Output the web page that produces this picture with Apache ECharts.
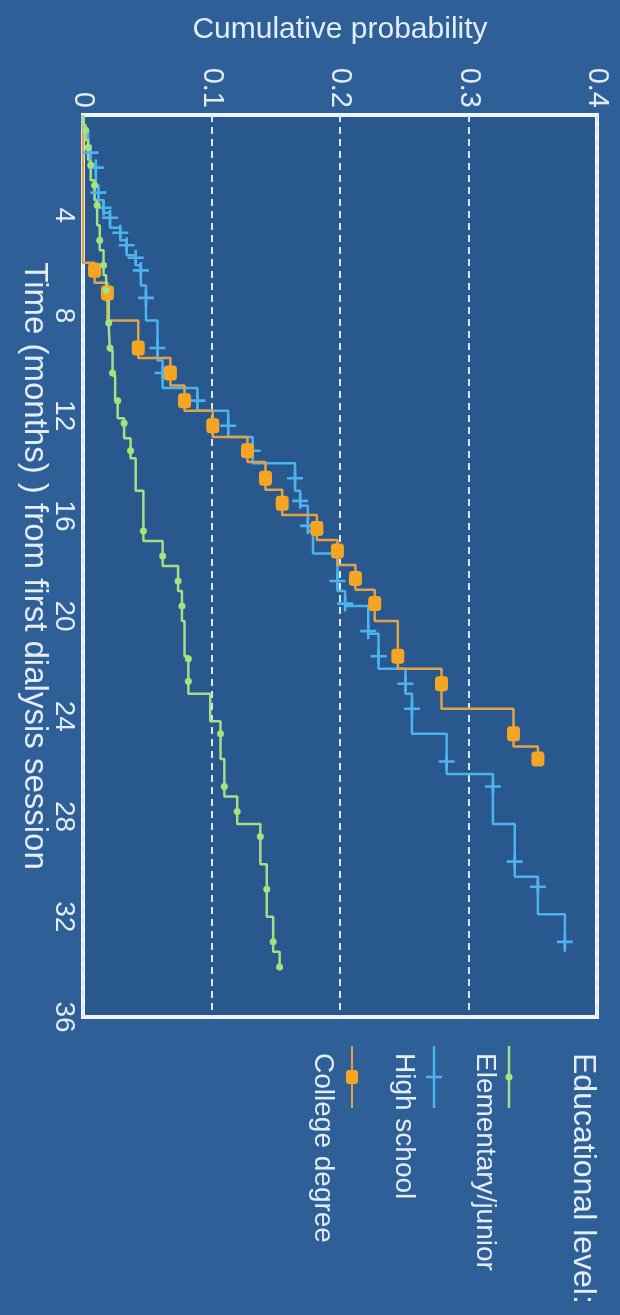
<!DOCTYPE html>
<html><head><meta charset="utf-8">
<script src="https://cdn.jsdelivr.net/npm/echarts@6/dist/echarts.min.js"></script>
<style>html,body{margin:0;padding:0;background:#2e5f96;}#chart{width:620px;height:1315px;}</style>
</head><body><div id="chart"></div>
<script>
// ---- data (time in months, cumulative probability) ----
const seriesNames = ['Elementary/junior', 'High school', 'College degree'];
const legendTitle = 'Educational level:';

const elemTime = [0, 0.4, 1.0, 1.8, 2.6, 3.4, 4.4, 5.4, 6.4, 7.4, 8.4, 9.4, 10.4, 11.4, 12.1, 12.9, 13.7, 15.0, 17.0, 18.0, 19.0, 20.2, 21.6, 23.1, 24.2, 25.7, 27.2, 28.3, 29.9, 32.0, 33.4, 34.0];
const elemProb = [0, 0.002, 0.004, 0.006, 0.009, 0.011, 0.013, 0.016, 0.018, 0.020, 0.021, 0.023, 0.025, 0.027, 0.032, 0.037, 0.041, 0.047, 0.062, 0.074, 0.077, 0.079, 0.082, 0.099, 0.107, 0.110, 0.120, 0.138, 0.143, 0.148, 0.153, 0.153];
const elemCensor = [0.6, 1.3, 2.0, 2.8, 3.6, 5.0, 6.0, 7.0, 8.3, 9.3, 10.3, 11.4, 12.3, 13.4, 16.6, 17.6, 18.6, 19.6, 21.7, 22.6, 24.7, 26.8, 27.8, 28.8, 30.9, 33.0, 34.0];

const highTime = [0, 0.6, 1.4, 2.0, 2.8, 3.4, 3.9, 4.5, 5.0, 5.6, 6.0, 6.8, 8.2, 9.8, 10.9, 11.8, 12.85, 13.9, 15.0, 15.6, 16.6, 17.5, 19.0, 19.6, 20.7, 22.1, 23.1, 24.7, 26.3, 28.3, 30.4, 31.9, 33.4];
const highProb = [0, 0.004, 0.006, 0.010, 0.012, 0.016, 0.021, 0.029, 0.034, 0.041, 0.045, 0.049, 0.058, 0.062, 0.089, 0.113, 0.132, 0.165, 0.169, 0.175, 0.179, 0.198, 0.204, 0.222, 0.230, 0.251, 0.256, 0.283, 0.319, 0.336, 0.354, 0.375, 0.375];
const highCensor = [1.5, 2.1, 3.1, 3.7, 4.1, 4.7, 5.2, 5.7, 6.2, 7.3, 9.3, 10.3, 11.4, 12.4, 13.4, 14.5, 15.4, 16.4, 18.6, 19.5, 20.6, 21.6, 22.7, 23.7, 25.8, 26.8, 29.8, 30.8, 33.0];

const collTime = [0, 5.9, 6.7, 8.2, 9.7, 10.8, 11.8, 12.85, 13.85, 14.96, 15.96, 16.96, 17.96, 18.95, 20.2, 22.1, 23.7, 25.2, 25.9];
const collProb = [0, 0.009, 0.019, 0.043, 0.068, 0.079, 0.101, 0.128, 0.142, 0.155, 0.182, 0.198, 0.212, 0.227, 0.245, 0.279, 0.335, 0.354, 0.354];
const collCensor = [6.2, 7.1, 9.3, 10.3, 11.4, 12.4, 13.4, 14.5, 15.5, 16.5, 17.4, 18.5, 19.5, 21.6, 22.7, 24.7, 25.7];

const probTicks = [0, 0.1, 0.2, 0.3, 0.4];
const timeTicks = [0, 4, 8, 12, 16, 20, 24, 28, 32, 36];

// ---- helpers ----
function stepData(times, probs) { return times.map((t, i) => [probs[i], t]); }
function censorData(times, probs, ctimes) {
  return ctimes.map(c => {
    let p = probs[0];
    for (let i = 0; i < times.length; i++) { if (times[i] <= c + 1e-9) p = probs[i]; }
    return [p, c];
  });
}

const GREEN = '#a6dd87', GREEN_M = '#a4e27e';
const BLUE = '#4db2ee';
const ORANGE_L = '#e2a24a', ORANGE_M = '#f5a524';
const TXT = '#e3ecf7';
const FONT = '"Liberation Sans", Arial, sans-serif';
const CROSS = 'path://M-8,-1.3H8V1.3H-8Z M-1.3,-8H1.3V8H-1.3Z';

const chart = echarts.init(document.getElementById('chart'), null, {renderer: 'canvas'});

const lineBase = {type: 'line', step: 'start', showSymbol: false, symbol: 'none', animation: false, z: 3};

chart.setOption({
  backgroundColor: '#2e5f96',
  animation: false,
  textStyle: {fontFamily: FONT},
  grid: {left: 83, top: 115, width: 514, height: 902, show: true,
         backgroundColor: '#29588e', borderColor: '#eef4fb', borderWidth: 4, z: 0},
  xAxis: {
    type: 'value', position: 'top',
    min: probTicks[0], max: probTicks[probTicks.length - 1], interval: probTicks[1] - probTicks[0],
    name: 'Cumulative probability', nameLocation: 'middle', nameGap: 70,
    nameTextStyle: {color: TXT, fontSize: 30, fontFamily: FONT},
    axisLine: {show: false}, axisTick: {show: false},
    axisLabel: {rotate: -90, color: TXT, fontSize: 29, margin: 7, fontFamily: FONT},
    splitLine: {show: true, lineStyle: {color: '#dbe6f3', type: [7, 5], width: 2}}
  },
  yAxis: {
    type: 'value', inverse: true,
    min: timeTicks[0], max: timeTicks[timeTicks.length - 1], interval: timeTicks[1] - timeTicks[0],
    name: 'Time (months) ) from first dialysis session', nameLocation: 'middle', nameGap: 32, nameRotate: -90,
    nameMoveOverlap: false,
    nameTextStyle: {color: TXT, fontSize: 33, fontFamily: FONT},
    axisLine: {show: false}, axisTick: {show: false},
    axisLabel: {rotate: -90, color: TXT, fontSize: 28, margin: 5, fontFamily: FONT, showMinLabel: false},
    splitLine: {show: false}
  },
  series: [
    Object.assign({}, lineBase, {name: seriesNames[1], data: stepData(highTime, highProb), lineStyle: {color: BLUE, width: 2.5}}),
    Object.assign({}, lineBase, {name: seriesNames[2], data: stepData(collTime, collProb), lineStyle: {color: ORANGE_L, width: 2.5}}),
    Object.assign({}, lineBase, {name: seriesNames[0], data: stepData(elemTime, elemProb), lineStyle: {color: GREEN, width: 2.5}}),
    {type: 'scatter', name: seriesNames[1] + ' censored', data: censorData(highTime, highProb, highCensor),
     symbol: CROSS, symbolSize: [16, 16], itemStyle: {color: BLUE, opacity: 1}, z: 4, animation: false},
    {type: 'scatter', name: seriesNames[2] + ' censored', data: censorData(collTime, collProb, collCensor),
     symbol: 'roundRect', symbolSize: [13, 15], itemStyle: {color: ORANGE_M, opacity: 1}, z: 5, animation: false},
    {type: 'scatter', name: seriesNames[0] + ' censored', data: censorData(elemTime, elemProb, elemCensor),
     symbol: 'circle', symbolSize: 7, itemStyle: {color: GREEN_M, opacity: 1}, z: 6, animation: false}
  ],
  graphic: [
    {type: 'text', x: 583, y: 1053, rotation: -Math.PI / 2,
     style: {text: legendTitle, fill: TXT, font: '32px ' + FONT, align: 'left', verticalAlign: 'middle'}},
    // Elementary/junior
    {type: 'line', shape: {x1: 509, y1: 1046, x2: 509, y2: 1108}, style: {stroke: GREEN, lineWidth: 2.5}},
    {type: 'circle', shape: {cx: 509, cy: 1077, r: 3.5}, style: {fill: GREEN_M}},
    {type: 'text', x: 485, y: 1053, rotation: -Math.PI / 2,
     style: {text: seriesNames[0], fill: TXT, font: '28px ' + FONT, align: 'left', verticalAlign: 'middle'}},
    // High school
    {type: 'line', shape: {x1: 434, y1: 1046, x2: 434, y2: 1108}, style: {stroke: BLUE, lineWidth: 2.5}},
    {type: 'line', shape: {x1: 426, y1: 1077, x2: 442, y2: 1077}, style: {stroke: BLUE, lineWidth: 2.5}},
    {type: 'text', x: 404, y: 1053, rotation: -Math.PI / 2,
     style: {text: seriesNames[1], fill: TXT, font: '28px ' + FONT, align: 'left', verticalAlign: 'middle'}},
    // College degree
    {type: 'line', shape: {x1: 352, y1: 1046, x2: 352, y2: 1108}, style: {stroke: ORANGE_L, lineWidth: 2}},
    {type: 'rect', shape: {x: 346, y: 1070, width: 12, height: 14, r: 3}, style: {fill: ORANGE_M}},
    {type: 'text', x: 323, y: 1053, rotation: -Math.PI / 2,
     style: {text: seriesNames[2], fill: TXT, font: '28px ' + FONT, align: 'left', verticalAlign: 'middle'}}
  ]
});
</script>
</body></html>
